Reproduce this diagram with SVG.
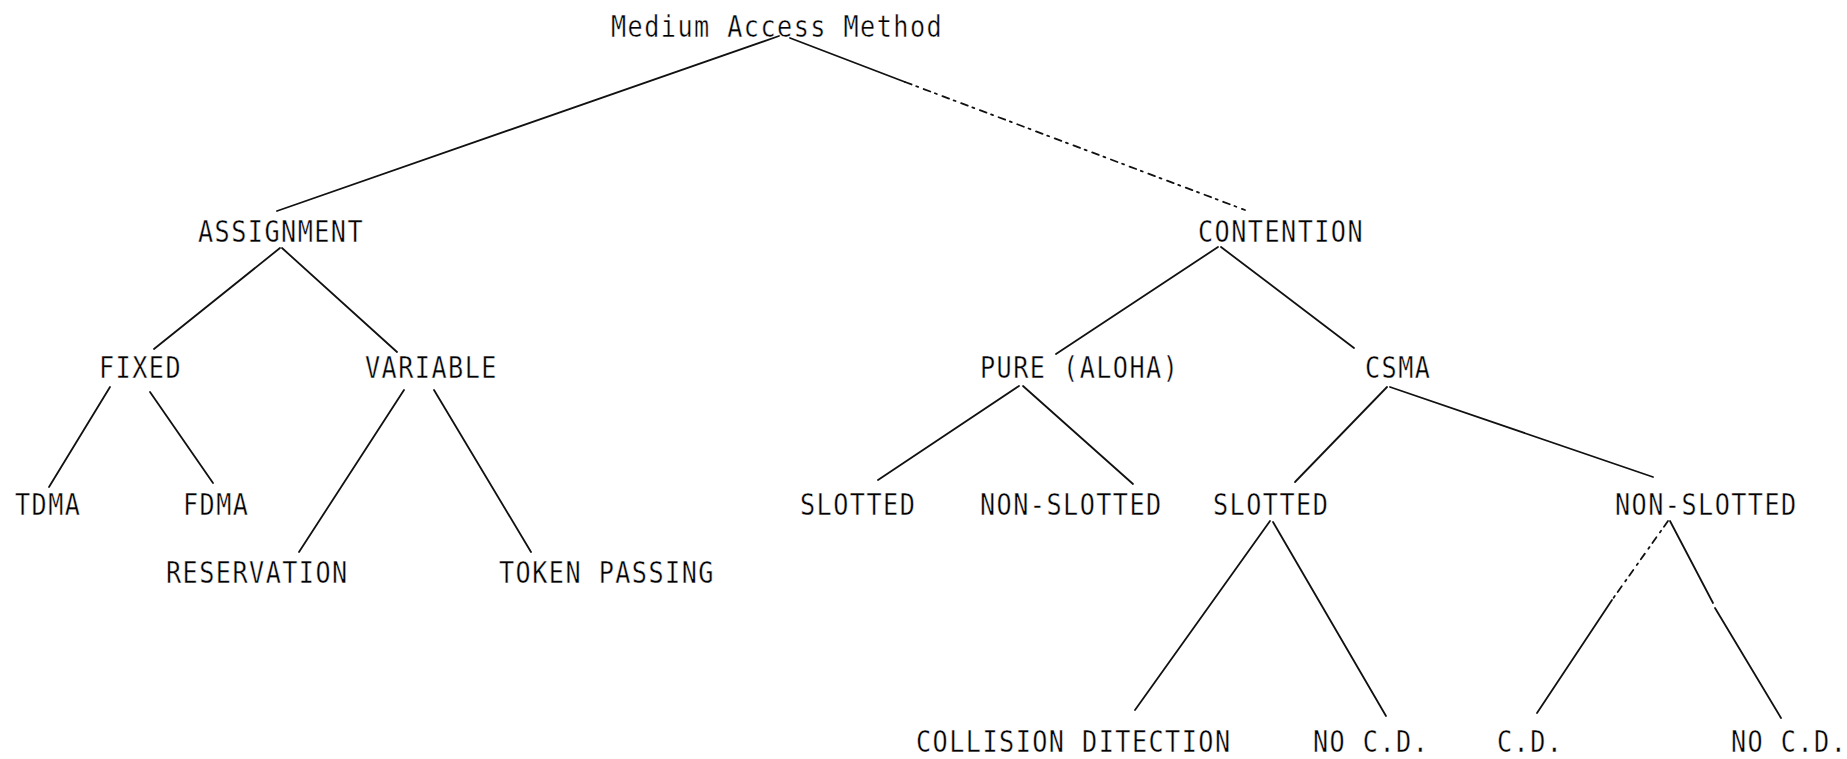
<svg xmlns="http://www.w3.org/2000/svg" width="1847" height="759" viewBox="0 0 1847 759">
<style>
  .lbl { font-family: "DejaVu Sans Mono", "Liberation Mono", monospace; font-size: 28px; letter-spacing: 1.6px; fill: #000000; stroke: #ffffff; stroke-width: 0.4px; }
  .ln { stroke: #111111; stroke-width: 1.8; fill: none; stroke-linecap: round; }
  .dash { stroke-dasharray: 7 5 2 6; }
</style>
<rect width="1847" height="759" fill="#ffffff"/>
<g id="connectors">
  <line class="ln" x1="779" y1="36" x2="277" y2="211"/>
  <line class="ln" x1="790" y1="38" x2="905" y2="82"/>
  <line class="ln dash" x1="905" y1="82" x2="1245" y2="210"/>
  <line class="ln" x1="280" y1="248" x2="154" y2="349"/>
  <line class="ln" x1="282" y1="248" x2="397" y2="352"/>
  <line class="ln" x1="110" y1="387" x2="49" y2="487"/>
  <line class="ln" x1="150" y1="392" x2="213" y2="483"/>
  <line class="ln" x1="404" y1="390" x2="299" y2="552"/>
  <line class="ln" x1="434" y1="390" x2="531" y2="552"/>
  <line class="ln" x1="1218" y1="247" x2="1056" y2="354"/>
  <line class="ln" x1="1221" y1="247" x2="1354" y2="348"/>
  <line class="ln" x1="1019" y1="386" x2="878" y2="480"/>
  <line class="ln" x1="1023" y1="386" x2="1133" y2="484"/>
  <line class="ln" x1="1387" y1="387" x2="1295" y2="482"/>
  <line class="ln" x1="1390" y1="387" x2="1653" y2="477"/>
  <line class="ln" x1="1270" y1="521" x2="1135" y2="710"/>
  <line class="ln" x1="1273" y1="522" x2="1386" y2="716"/>
  <line class="ln dash" x1="1668" y1="521" x2="1612" y2="600"/>
  <line class="ln" x1="1612" y1="600" x2="1537" y2="713"/>
  <line class="ln" x1="1670" y1="521" x2="1713" y2="603"/>
  <line class="ln" x1="1715" y1="608" x2="1781" y2="718"/>
</g>
<g id="n-root"><text class="lbl" transform="translate(611,37) scale(0.9,1.07)">Medium Access Method</text></g>
<g id="n-assignment"><text class="lbl" transform="translate(198,242) scale(0.9,1.07)">ASSIGNMENT</text></g>
<g id="n-contention"><text class="lbl" transform="translate(1198,242) scale(0.9,1.07)">CONTENTION</text></g>
<g id="n-fixed"><text class="lbl" transform="translate(99,378) scale(0.9,1.07)">FIXED</text></g>
<g id="n-variable"><text class="lbl" transform="translate(365,378) scale(0.9,1.07)">VARIABLE</text></g>
<g id="n-pure"><text class="lbl" transform="translate(980,378) scale(0.9,1.07)">PURE (ALOHA)</text></g>
<g id="n-csma"><text class="lbl" transform="translate(1365,378) scale(0.9,1.07)">CSMA</text></g>
<g id="n-tdma"><text class="lbl" transform="translate(15,515) scale(0.9,1.07)">TDMA</text></g>
<g id="n-fdma"><text class="lbl" transform="translate(183,515) scale(0.9,1.07)">FDMA</text></g>
<g id="n-slotted-a"><text class="lbl" transform="translate(800,515) scale(0.9,1.07)">SLOTTED</text></g>
<g id="n-nonslotted-a"><text class="lbl" transform="translate(980,515) scale(0.9,1.07)">NON-SLOTTED</text></g>
<g id="n-slotted-c"><text class="lbl" transform="translate(1213,515) scale(0.9,1.07)">SLOTTED</text></g>
<g id="n-nonslotted-c"><text class="lbl" transform="translate(1615,515) scale(0.9,1.07)">NON-SLOTTED</text></g>
<g id="n-reservation"><text class="lbl" transform="translate(166,583) scale(0.9,1.07)">RESERVATION</text></g>
<g id="n-token"><text class="lbl" transform="translate(499,583) scale(0.9,1.07)">TOKEN PASSING</text></g>
<g id="n-collision"><text class="lbl" transform="translate(916,752) scale(0.9,1.07)">COLLISION DITECTION</text></g>
<g id="n-nocd-1"><text class="lbl" transform="translate(1313,752) scale(0.9,1.07)">NO C.D.</text></g>
<g id="n-cd"><text class="lbl" transform="translate(1497,752) scale(0.9,1.07)">C.D.</text></g>
<g id="n-nocd-2"><text class="lbl" transform="translate(1731,752) scale(0.9,1.07)">NO C.D.</text></g>
</svg>
